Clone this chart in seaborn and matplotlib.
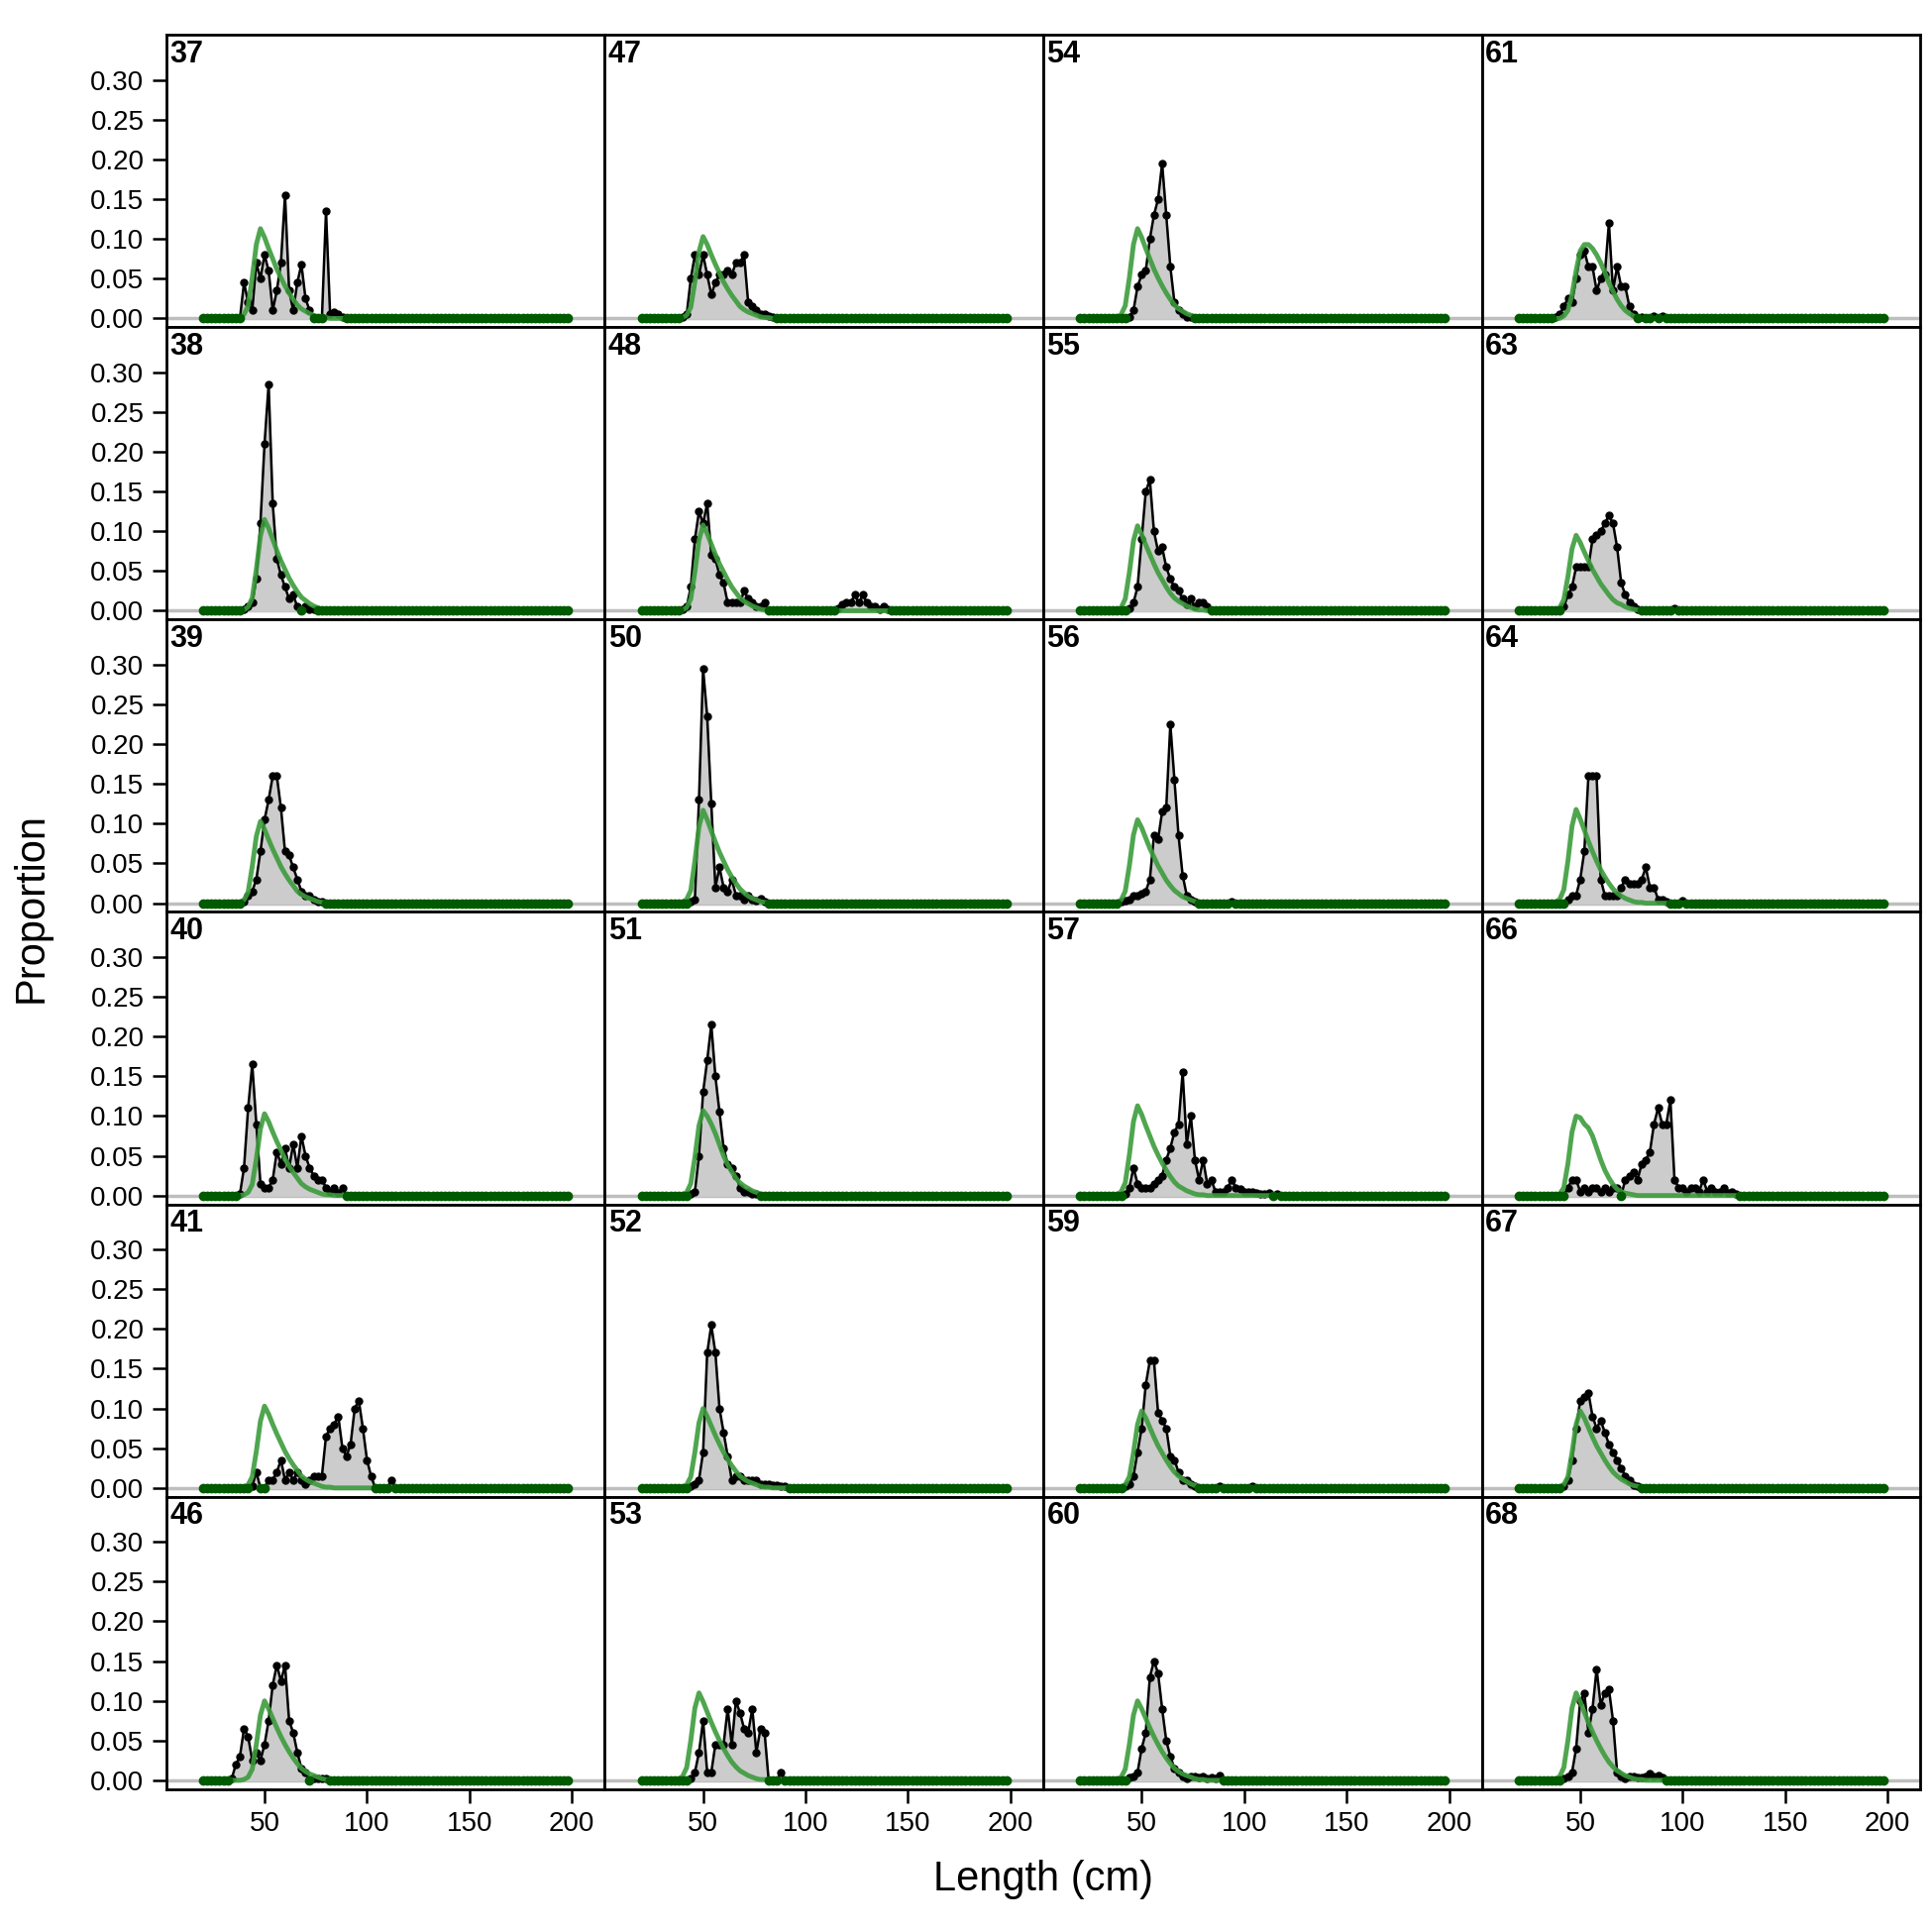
import matplotlib
matplotlib.use("Agg")
import matplotlib.pyplot as plt
import numpy as np
import seaborn as sns

sns.set_style("white")
plt.rcParams['font.family'] = ['Liberation Sans', 'DejaVu Sans']
plt.rcParams['text.color'] = 'black'
plt.rcParams['xtick.color'] = 'black'
plt.rcParams['ytick.color'] = 'black'

# length bins (cm)
bins = np.arange(20, 200, 2)

# panel labels, column-major order (4 columns x 6 rows)
panel_ids = [37, 38, 39, 40, 41, 46,
             47, 48, 50, 51, 52, 53,
             54, 55, 56, 57, 59, 60,
             61, 63, 64, 66, 67, 68]

# observed proportions: first bin and consecutive 2-cm values
obs_start = [40, 40, 40, 38, 44, 34,
             40, 40, 44, 44, 44, 44,
             44, 44, 40, 42, 42, 44,
             38, 42, 44, 44, 42, 42]
obs_values = [
    [0.045, 0.02, 0.01, 0.07, 0.05, 0.08, 0.06, 0.01, 0.035, 0.07, 0.155, 0.035, 0.01, 0.045, 0.068, 0.025, 0.01, 0.0, 0.0, 0.0, 0.135, 0.005, 0.008, 0.005, 0.002],
    [0.002, 0.005, 0.01, 0.04, 0.11, 0.21, 0.285, 0.135, 0.065, 0.045, 0.03, 0.015, 0.02, 0.005, 0.0, 0.005, 0.002, 0.002],
    [0.002, 0.01, 0.015, 0.03, 0.065, 0.105, 0.13, 0.16, 0.16, 0.12, 0.065, 0.06, 0.045, 0.03, 0.015, 0.01, 0.01, 0.005, 0.002, 0.002],
    [0.002, 0.035, 0.11, 0.165, 0.09, 0.015, 0.01, 0.01, 0.02, 0.055, 0.04, 0.06, 0.035, 0.065, 0.035, 0.075, 0.05, 0.035, 0.025, 0.02, 0.02, 0.01, 0.005, 0.01, 0.003, 0.01],
    [0.002, 0.02, 0.0, 0.0, 0.01, 0.01, 0.02, 0.035, 0.01, 0.02, 0.01, 0.02, 0.01, 0.005, 0.01, 0.015, 0.015, 0.015, 0.065, 0.075, 0.08, 0.09, 0.05, 0.04, 0.055, 0.1, 0.11, 0.075, 0.035, 0.015, 0.0, 0.0, 0.0, 0.0, 0.01],
    [0.002, 0.02, 0.03, 0.065, 0.055, 0.025, 0.035, 0.025, 0.045, 0.075, 0.12, 0.145, 0.125, 0.145, 0.075, 0.06, 0.035, 0.015, 0.01, 0.0, 0.002, 0.002, 0.002, 0.002],
    [0.002, 0.005, 0.05, 0.08, 0.055, 0.08, 0.055, 0.03, 0.045, 0.055, 0.055, 0.06, 0.055, 0.07, 0.07, 0.08, 0.02, 0.015, 0.01, 0.005, 0.005, 0.003, 0.002],
    [0.002, 0.005, 0.03, 0.09, 0.125, 0.11, 0.135, 0.07, 0.065, 0.045, 0.035, 0.01, 0.01, 0.01, 0.01, 0.025, 0.015, 0.01, 0.005, 0.005, 0.01,
     0.0, 0.0, 0.0, 0.0, 0.0, 0.0, 0.0, 0.0, 0.0, 0.0, 0.0, 0.0, 0.0, 0.0, 0.0, 0.0, 0.0,
     0.003, 0.008, 0.01, 0.01, 0.02, 0.01, 0.02, 0.01, 0.005, 0.005, 0.002, 0.005, 0.002],
    [0.002, 0.005, 0.13, 0.295, 0.235, 0.125, 0.02, 0.045, 0.02, 0.015, 0.03, 0.01, 0.01, 0.005, 0.01, 0.005, 0.003, 0.006, 0.002],
    [0.002, 0.005, 0.05, 0.13, 0.17, 0.215, 0.15, 0.105, 0.06, 0.04, 0.035, 0.025, 0.01, 0.005, 0.005, 0.002, 0.002],
    [0.002, 0.005, 0.01, 0.045, 0.17, 0.205, 0.17, 0.1, 0.07, 0.04, 0.01, 0.015, 0.015, 0.01, 0.01, 0.01, 0.01, 0.005, 0.005, 0.005, 0.003, 0.003, 0.002, 0.002],
    [0.002, 0.01, 0.035, 0.075, 0.01, 0.01, 0.045, 0.045, 0.045, 0.09, 0.045, 0.1, 0.085, 0.065, 0.06, 0.09, 0.035, 0.065, 0.06, 0.0, 0.0, 0.0, 0.01],
    [0.002, 0.01, 0.04, 0.055, 0.06, 0.1, 0.13, 0.15, 0.195, 0.13, 0.065, 0.02, 0.01, 0.005, 0.002, 0.002],
    [0.003, 0.01, 0.03, 0.09, 0.15, 0.165, 0.1, 0.075, 0.08, 0.055, 0.04, 0.03, 0.025, 0.015, 0.008, 0.015, 0.005, 0.01, 0.01, 0.005],
    [0.002, 0.003, 0.005, 0.01, 0.01, 0.012, 0.015, 0.03, 0.085, 0.08, 0.115, 0.12, 0.225, 0.155, 0.085, 0.035, 0.01, 0.005, 0.002,
     0.0, 0.0, 0.0, 0.0, 0.0, 0.0, 0.0, 0.0, 0.002],
    [0.002, 0.01, 0.035, 0.015, 0.01, 0.01, 0.01, 0.015, 0.02, 0.025, 0.045, 0.06, 0.08, 0.09, 0.155, 0.065, 0.1, 0.045, 0.02, 0.045, 0.015, 0.02,
     0.005, 0.005, 0.005, 0.01, 0.02, 0.01, 0.008, 0.005, 0.004, 0.005, 0.003, 0.002, 0.002, 0.003, 0.0, 0.002],
    [0.002, 0.005, 0.015, 0.045, 0.075, 0.13, 0.16, 0.16, 0.095, 0.085, 0.075, 0.04, 0.035, 0.02, 0.01, 0.01, 0.005, 0.002,
     0.0, 0.0, 0.0, 0.0, 0.0, 0.002, 0.0, 0.0, 0.0, 0.0, 0.0, 0.0, 0.0, 0.002],
    [0.003, 0.005, 0.01, 0.04, 0.06, 0.13, 0.15, 0.135, 0.09, 0.05, 0.03, 0.015, 0.01, 0.005, 0.002, 0.005, 0.005, 0.004, 0.005, 0.002, 0.003, 0.002, 0.006],
    [0.002, 0.005, 0.015, 0.025, 0.02, 0.05, 0.08, 0.085, 0.065, 0.065, 0.035, 0.05, 0.055, 0.12, 0.035, 0.065, 0.04, 0.04, 0.015, 0.005, 0.0, 0.002, 0.0, 0.0, 0.003, 0.0, 0.003],
    [0.005, 0.02, 0.03, 0.055, 0.055, 0.055, 0.055, 0.09, 0.095, 0.1, 0.11, 0.12, 0.11, 0.08, 0.035, 0.02, 0.01, 0.005, 0.002,
     0.0, 0.0, 0.0, 0.0, 0.0, 0.0, 0.0, 0.0, 0.003],
    [0.005, 0.01, 0.01, 0.03, 0.065, 0.16, 0.16, 0.16, 0.03, 0.01, 0.01, 0.01, 0.01, 0.02, 0.03, 0.025, 0.025, 0.025, 0.03, 0.045, 0.02, 0.02, 0.005, 0.005, 0.002,
     0.0, 0.0, 0.0, 0.003],
    [0.01, 0.02, 0.02, 0.005, 0.01, 0.005, 0.01, 0.01, 0.005, 0.01, 0.005, 0.01, 0.01, 0.0, 0.02, 0.025, 0.03, 0.02, 0.04, 0.045, 0.055, 0.09, 0.11, 0.09, 0.09, 0.12,
     0.02, 0.01, 0.01, 0.005, 0.01, 0.01, 0.005, 0.02, 0.005, 0.01, 0.005, 0.005, 0.01, 0.003, 0.005, 0.002],
    [0.002, 0.01, 0.035, 0.075, 0.11, 0.115, 0.12, 0.09, 0.075, 0.085, 0.07, 0.055, 0.045, 0.035, 0.025, 0.015, 0.01, 0.003, 0.002],
    [0.002, 0.005, 0.01, 0.04, 0.1, 0.11, 0.06, 0.09, 0.14, 0.095, 0.11, 0.115, 0.075, 0.01, 0.005, 0.002, 0.005, 0.005, 0.003, 0.004, 0.005, 0.008, 0.005, 0.006, 0.003],
]

# expected proportions: first bin and consecutive 2-cm values
exp_start = [36, 38, 36, 38, 38, 38,
             38, 38, 38, 38, 38, 36,
             36, 36, 36, 36, 38, 36,
             42, 36, 36, 40, 38, 36]
exp_values = [
    [0.0, 0.001, 0.005, 0.016, 0.051, 0.093, 0.113, 0.102, 0.088, 0.075, 0.062, 0.051, 0.041, 0.032, 0.024, 0.017, 0.012, 0.009, 0.006, 0.004, 0.002, 0.001, 0.001],
    [0.0, 0.001, 0.005, 0.016, 0.052, 0.094, 0.115, 0.104, 0.09, 0.076, 0.063, 0.052, 0.041, 0.032, 0.024, 0.017, 0.013, 0.009, 0.006, 0.004, 0.002, 0.001, 0.001],
    [0.0, 0.001, 0.004, 0.014, 0.046, 0.084, 0.103, 0.093, 0.08, 0.068, 0.057, 0.046, 0.037, 0.029, 0.022, 0.015, 0.011, 0.008, 0.006, 0.004, 0.002, 0.001, 0.001],
    [0.0, 0.001, 0.004, 0.014, 0.046, 0.084, 0.103, 0.093, 0.08, 0.068, 0.057, 0.046, 0.037, 0.029, 0.022, 0.015, 0.011, 0.008, 0.006, 0.004, 0.002, 0.001, 0.001],
    [0.0, 0.001, 0.004, 0.014, 0.046, 0.084, 0.103, 0.093, 0.08, 0.068, 0.057, 0.046, 0.037, 0.029, 0.022, 0.015, 0.011, 0.008, 0.006, 0.004, 0.002, 0.001, 0.001],
    [0.0, 0.001, 0.004, 0.014, 0.045, 0.082, 0.1, 0.09, 0.078, 0.066, 0.055, 0.045, 0.036, 0.028, 0.021, 0.015, 0.011, 0.008, 0.006, 0.004, 0.002, 0.001, 0.001],
    [0.0, 0.001, 0.004, 0.014, 0.046, 0.084, 0.103, 0.093, 0.08, 0.068, 0.057, 0.046, 0.037, 0.029, 0.022, 0.015, 0.011, 0.008, 0.006, 0.004, 0.002, 0.001, 0.001],
    [0.0, 0.001, 0.004, 0.015, 0.049, 0.089, 0.108, 0.097, 0.084, 0.071, 0.059, 0.049, 0.039, 0.03, 0.023, 0.016, 0.012, 0.009, 0.006, 0.004, 0.002, 0.001, 0.001],
    [0.0, 0.001, 0.005, 0.016, 0.053, 0.096, 0.117, 0.105, 0.091, 0.077, 0.064, 0.053, 0.042, 0.033, 0.025, 0.018, 0.013, 0.009, 0.006, 0.004, 0.002, 0.001, 0.001],
    [0.0, 0.001, 0.004, 0.015, 0.048, 0.088, 0.107, 0.1, 0.09, 0.078, 0.064, 0.05, 0.039, 0.03, 0.022, 0.016, 0.012, 0.009, 0.006, 0.004, 0.002, 0.001, 0.001],
    [0.0, 0.001, 0.004, 0.014, 0.045, 0.082, 0.1, 0.09, 0.078, 0.066, 0.055, 0.045, 0.036, 0.028, 0.021, 0.015, 0.011, 0.008, 0.006, 0.004, 0.002, 0.001, 0.001],
    [0.0, 0.001, 0.005, 0.016, 0.05, 0.091, 0.11, 0.099, 0.086, 0.073, 0.061, 0.05, 0.04, 0.031, 0.023, 0.017, 0.012, 0.009, 0.006, 0.004, 0.002, 0.001, 0.001],
    [0.0, 0.001, 0.005, 0.016, 0.051, 0.093, 0.113, 0.102, 0.088, 0.075, 0.062, 0.051, 0.041, 0.032, 0.024, 0.017, 0.012, 0.009, 0.006, 0.004, 0.002, 0.001, 0.001],
    [0.0, 0.001, 0.004, 0.015, 0.048, 0.088, 0.107, 0.096, 0.083, 0.071, 0.059, 0.048, 0.039, 0.03, 0.022, 0.016, 0.012, 0.009, 0.006, 0.004, 0.002, 0.001, 0.001],
    [0.0, 0.001, 0.004, 0.015, 0.047, 0.086, 0.105, 0.095, 0.082, 0.069, 0.058, 0.047, 0.038, 0.029, 0.022, 0.016, 0.012, 0.008, 0.006, 0.004, 0.002, 0.001, 0.001],
    [0.0, 0.001, 0.005, 0.016, 0.051, 0.093, 0.113, 0.102, 0.088, 0.075, 0.062, 0.051, 0.041, 0.032, 0.024, 0.017, 0.012, 0.009, 0.006, 0.004, 0.002, 0.001, 0.001],
    [0.0, 0.001, 0.004, 0.014, 0.044, 0.08, 0.097, 0.088, 0.076, 0.064, 0.053, 0.044, 0.035, 0.027, 0.02, 0.015, 0.011, 0.008, 0.005, 0.003, 0.002, 0.001, 0.001],
    [0.0, 0.001, 0.004, 0.014, 0.045, 0.082, 0.1, 0.09, 0.078, 0.066, 0.055, 0.045, 0.036, 0.028, 0.021, 0.015, 0.011, 0.008, 0.006, 0.004, 0.002, 0.001, 0.001],
    [0.003, 0.01, 0.03, 0.06, 0.085, 0.093, 0.093, 0.088, 0.08, 0.07, 0.058, 0.045, 0.034, 0.024, 0.016, 0.01, 0.006, 0.003, 0.001],
    [0.0, 0.001, 0.004, 0.014, 0.043, 0.078, 0.095, 0.086, 0.074, 0.063, 0.052, 0.043, 0.034, 0.027, 0.02, 0.014, 0.01, 0.008, 0.005, 0.003, 0.002, 0.001, 0.001],
    [0.0, 0.001, 0.005, 0.017, 0.053, 0.097, 0.118, 0.106, 0.092, 0.078, 0.065, 0.053, 0.042, 0.033, 0.025, 0.018, 0.013, 0.009, 0.006, 0.004, 0.002, 0.001, 0.001],
    [0.002, 0.01, 0.04, 0.08, 0.1, 0.098, 0.09, 0.085, 0.075, 0.06, 0.045, 0.032, 0.022, 0.014, 0.008, 0.005, 0.003, 0.002, 0.001],
    [0.0, 0.001, 0.004, 0.014, 0.044, 0.08, 0.097, 0.088, 0.076, 0.064, 0.053, 0.044, 0.035, 0.027, 0.02, 0.015, 0.011, 0.008, 0.005, 0.003, 0.002, 0.001, 0.001],
    [0.0, 0.001, 0.005, 0.016, 0.05, 0.091, 0.11, 0.099, 0.086, 0.073, 0.061, 0.05, 0.04, 0.031, 0.023, 0.017, 0.012, 0.009, 0.006, 0.004, 0.002, 0.001, 0.001],
]

# y axis tick values and x axis tick values
y_ticks = [0.0, 0.05, 0.10, 0.15, 0.20, 0.25, 0.30]
x_ticks = [50, 100, 150, 200]


def full_series(start, values):
    s = np.zeros(len(bins))
    i0 = int(np.searchsorted(bins, start))
    s[i0:i0 + len(values)] = values
    return s


fig, axes = plt.subplots(6, 4, figsize=(19.5, 19.5), dpi=100, sharex=True, sharey=True,
                         gridspec_kw=dict(hspace=0, wspace=0))
fig.subplots_adjust(left=0.086, right=0.994, top=0.982, bottom=0.074)

for k, pid in enumerate(panel_ids):
    col, row = divmod(k, 6)
    ax = axes[row, col]
    obs = full_series(obs_start[k], obs_values[k])
    exp = full_series(exp_start[k], exp_values[k])

    ax.axhline(0, color='#bebebe', lw=2.5, zorder=1)
    ax.fill_between(bins, 0, obs, color='#cccccc', zorder=2)
    sns.lineplot(x=bins, y=obs, ax=ax, color='black', lw=1.8, zorder=3)
    nz = obs > 0
    ax.plot(bins[nz], obs[nz], 'o', color='black', ms=5, zorder=4)
    sns.lineplot(x=bins, y=exp, ax=ax, color='#3c9c3c', lw=3.5, alpha=0.9, zorder=5)
    ax.plot(bins[~nz], obs[~nz], 'o', color='#005a00', ms=6, zorder=6)

    ax.text(0.008, 0.985, str(pid), transform=ax.transAxes, ha='left', va='top',
            fontsize=22, fontweight='bold')

    ax.set_xlim(2, 216)
    ax.set_ylim(-0.011, 0.357)
    for sp in ax.spines.values():
        sp.set_linewidth(2)
        sp.set_color('black')
    ax.tick_params(axis='both', direction='out', length=10, width=1.8, labelsize=20,
                   left=(col == 0), bottom=(row == 5), pad=6)
    ax.set_yticks(y_ticks)
    ax.set_yticklabels([f'{v:.2f}' for v in y_ticks])
    ax.set_xticks(x_ticks)
    ax.set_xlabel('')
    ax.set_ylabel('')

fig.text(0.54, 0.027, 'Length (cm)', ha='center', va='center', fontsize=30)
fig.text(0.016, 0.53, 'Proportion', ha='center', va='center', rotation=90, fontsize=30)

fig.savefig('out.png', dpi=100)
